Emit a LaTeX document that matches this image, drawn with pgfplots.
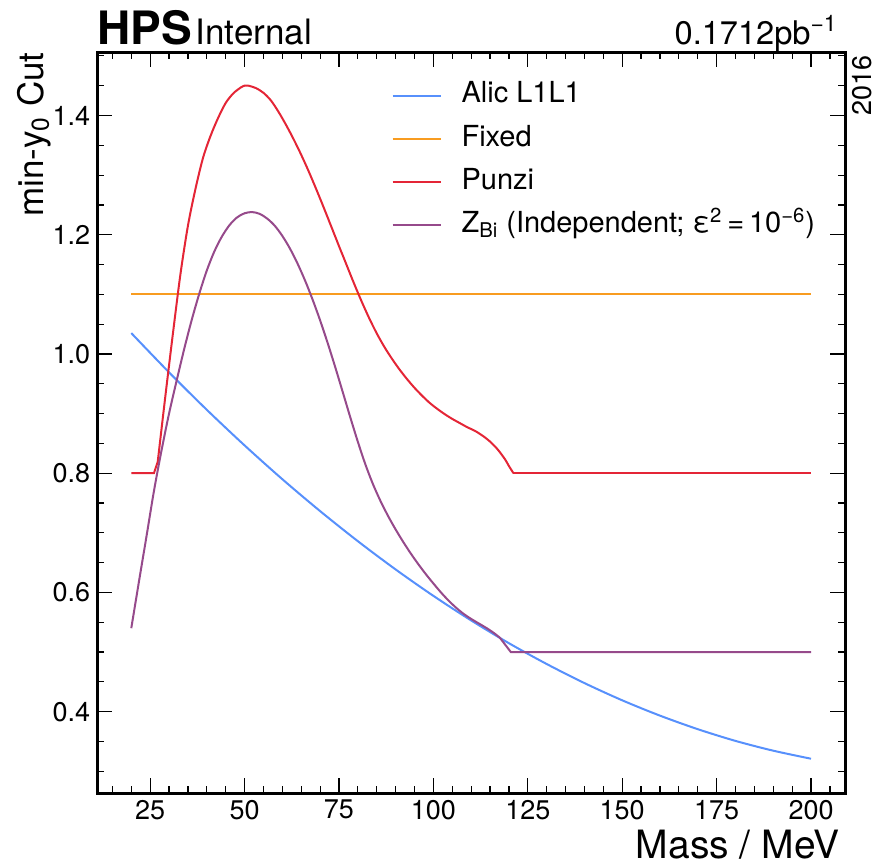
\documentclass[border=0pt]{standalone}
\usepackage{fontspec}
\setmainfont{TeX Gyre Heros}
\usepackage{pgfplots}
\pgfplotsset{compat=1.18}
\usetikzlibrary{calc}
\definecolor{cblue}{HTML}{5790FC}
\definecolor{corange}{HTML}{F89C20}
\definecolor{cred}{HTML}{E42536}
\definecolor{cpurple}{HTML}{964A8B}
\begin{document}
\begin{tikzpicture}
\useasboundingbox (-48.65pt,-35.5pt) rectangle (389.85pt,396.5pt);
\begin{axis}[
  name=ax,
  at={(0,0)}, anchor=south west,
  scale only axis,
  width=373.85pt, height=370.5pt,
  xmin=11, xmax=209, ymin=0.2635, ymax=1.5065,
  xtick={25,50,...,200},
  minor xtick={15,20,...,205},
  ytick={0.4,0.6,0.8,1.0,1.2,1.4},
  minor ytick={0.3,0.35,0.45,0.5,0.55,0.65,0.7,0.75,0.85,0.9,0.95,1.05,1.1,1.15,1.25,1.3,1.35,1.45,1.5},
  tick align=inside,
  major tick length=7.5pt,
  minor tick length=3.5pt,
  tick style={black, line width=0.6pt},
  axis line style={line width=1.5pt},
  tick label style={font=\fontsize{13.5}{16}\selectfont},
  /pgf/number format/assume math mode=true,
  yticklabel style={/pgf/number format/.cd, fixed, fixed zerofill, precision=1},
  xticklabel style={/pgf/number format/.cd, fixed, precision=0},
  legend cell align=left,
  legend image code/.code={\draw[#1] (0pt,0pt) -- (24pt,0pt);},
  legend style={draw=none, fill=none, at={(0.385,0.967)}, anchor=north west,
    font=\fontsize{14.5}{17}\selectfont,
    nodes={inner sep=0pt, text height=11pt, text depth=4pt},
    column sep=10pt, row sep=6.6pt},
]
\addplot[cblue, line width=1pt, smooth] coordinates {
(20,1.035) (30,0.9691) (40,0.9063) (50,0.8466) (60,0.7899) (70,0.7364)
(80,0.6859) (90,0.6385) (100,0.5942) (110,0.553) (120,0.5148) (130,0.4799)
(140,0.4479) (150,0.4190) (160,0.3933) (170,0.3706) (180,0.3509) (190,0.3345) (200,0.321)
};
\addlegendentry{Alic L1L1}
\addplot[corange, line width=1pt] coordinates {(20,1.1) (200,1.1)};
\addlegendentry{Fixed}
\addplot[cred, line width=1pt, forget plot] coordinates {(20,0.8) (26.0,0.8) (27.0,0.819)};
\addplot[cred, line width=1pt, smooth] coordinates {
(27,0.819) (29,0.928) (31,1.033) (33,1.133) (35,1.215) (37,1.277) (39,1.329)
(41,1.366) (43,1.396) (45,1.421) (47,1.437) (49,1.447) (50,1.450) (51,1.450)
(53,1.446) (55,1.438) (57,1.425) (59,1.406) (61,1.384) (63,1.360) (65,1.334)
(67,1.306) (69,1.276) (71,1.245) (73,1.213) (75,1.181) (77,1.1495) (79,1.118)
(81,1.088) (83,1.060) (85,1.0345) (87,1.012) (89,0.9922) (91,0.9742) (93,0.958)
(95,0.9432) (97,0.930) (99,0.918) (101,0.908) (103,0.899) (105,0.891)
(107,0.884) (109,0.877) (111,0.871) (113,0.863) (115,0.853) (117,0.840)
(119,0.823) (120,0.812) (121.2,0.800)
};
\addlegendentry{Punzi}
\addplot[cred, line width=1pt, forget plot] coordinates {(121.2,0.8) (200,0.8)};
\addplot[cpurple, line width=1pt, smooth] coordinates {
(20,0.540) (22,0.617) (24,0.693) (26,0.770) (28,0.838) (30,0.900) (32,0.955)
(34,1.008) (36,1.057) (38,1.101) (40,1.140) (42,1.172) (44,1.197) (46,1.216)
(48,1.229) (50,1.236) (52,1.238) (54,1.235) (56,1.227) (58,1.215) (60,1.198)
(62,1.177) (64,1.152) (66,1.1234) (68,1.0914) (70,1.0564) (72,1.0184) (74,0.978)
(76,0.936) (78,0.8936) (80,0.8526) (82,0.8146) (84,0.7816) (86,0.7532) (88,0.7282)
(90,0.7056) (92,0.6848) (94,0.6654) (96,0.6474) (98,0.6306) (100,0.615) (102,0.600)
(104,0.5864) (106,0.5744) (108,0.564) (110,0.5555) (112,0.548) (114,0.5405)
(116,0.532) (117.6,0.524)
};
\addlegendentry{Z\textsubscript{Bi} (Independent; ε\textsuperscript{2}\,=\,10\textsuperscript{−6})}
\addplot[cpurple, line width=1pt, forget plot] coordinates {(117.6,0.524) (120.5,0.5) (200,0.5)};
\end{axis}
\node[anchor=base west, inner sep=0pt] at ($(ax.north west)+(0,4pt)$)
  {{\fontsize{23}{26}\selectfont\bfseries HPS}\,{\fontsize{17.5}{20}\selectfont Internal}};
\node[anchor=base east, inner sep=0pt, font=\fontsize{16.3}{19}\selectfont] at ($(ax.north east)+(-3.5pt,4pt)$)
  {0.1712pb\textsuperscript{−1}};
\node[anchor=base east, inner sep=0pt, rotate=90, font=\fontsize{13.5}{16}\selectfont] at ($(ax.north east)+(13pt,-1.5pt)$) {2016};
\node[anchor=base east, inner sep=0pt, rotate=90, font=\fontsize{17.5}{20}\selectfont] at ($(ax.north west)+(-27pt,0pt)$) {min-y\textsubscript{0} Cut};
\node[anchor=base east, inner sep=0pt, font=\fontsize{19.5}{22}\selectfont] at ($(ax.south east)+(-2.5pt,-32.5pt)$) {Mass / MeV};
\end{tikzpicture}
\end{document}
